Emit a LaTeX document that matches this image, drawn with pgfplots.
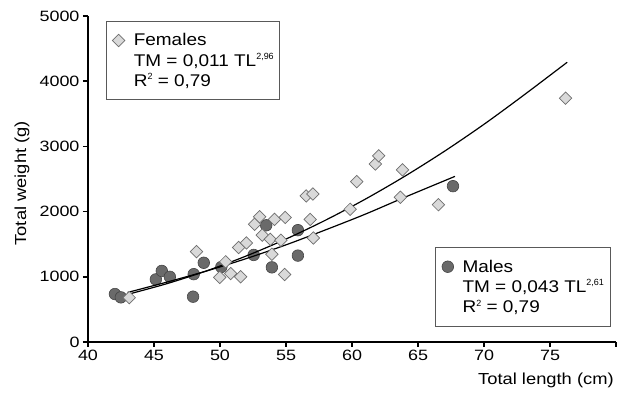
\documentclass[border=0pt]{standalone}
\usepackage{fontspec}
\setmainfont{Liberation Sans}
\usepackage{graphicx}
\usepackage{pgfplots}
\usepackage{pgfplotstable}
\pgfplotsset{compat=1.18}
\definecolor{fem}{HTML}{D9D9D9}
\definecolor{femedge}{HTML}{6E6E6E}
\definecolor{mal}{HTML}{6A6A6A}
\definecolor{maledge}{HTML}{454545}
\newcommand\W[1]{\scalebox{1.15}[1]{#1}}
\newcommand\Lg[1]{\scalebox{1.12}[1]{#1}}
\newcommand\T[1]{\scalebox{1.2}[1]{#1}}
\newcommand\sups[1]{\raisebox{6.5bp}{\fontsize{9}{9}\selectfont #1}}

\pgfplotstableread{
x y
42.04 735
42.49 685
45.14 960
45.59 1090
46.20 1000
48.01 1040
47.96 695
48.77 1215
50.10 1150
52.55 1335
53.50 1790
53.93 1145
55.90 1715
55.90 1325
67.65 2390
}\males

\pgfplotstableread{
x y
43.12 680
48.22 1385
49.98 990
50.43 1230
50.81 1050
51.56 1000
51.41 1450
52.00 1520
52.62 1805
53.00 1920
53.20 1640
53.81 1575
53.93 1345
54.13 1880
54.61 1560
54.94 1910
54.89 1035
56.53 2240
57.03 2270
56.83 1880
57.08 1595
59.86 2035
60.36 2460
61.77 2730
62.02 2855
63.66 2220
63.83 2640
66.55 2105
76.18 3740
}\females

\pgfplotstableread{
x y
43 730
46 896
49 1092
52 1320
55 1579
58 1869
61 2190
64 2542
67 2925
70 3339
73 3784
76.3 4290
}\femcurve

\pgfplotstableread{
x y
43 760
46 920
49 1090
52 1280
55 1490
58 1720
61 1960
64 2220
67.8 2540
}\malcurve

\begin{document}
\begin{tikzpicture}[font=\fontsize{16}{19}\selectfont]
\pgfplotsset{
 common/.style={scale only axis, width=528bp, height=326bp,
  xmin=40, xmax=80, ymin=0, ymax=5000, at={(0,0)}, anchor=south west, clip=false,
  legend cell align=left,
  legend style={draw=black!65, line width=0.8bp, fill=white,
    font=\fontsize{17}{20}\selectfont, row sep=2bp, column sep=7bp,
    inner xsep=4bp, inner ysep=10bp},
 }
}
\begin{axis}[common, name=ax,
 axis lines=left, axis line style={-, line width=1.8bp},
 tick align=outside, major tick length=5bp, tick style={line width=1.5bp, black},
 xtick={40,45,...,80}, xticklabels={\T{40},\T{45},\T{50},\T{55},\T{60},\T{65},\T{70},\T{75},},
 ytick={0,1000,...,5000}, yticklabel={\T{\pgfmathprintnumber{\tick}}},
 tick label style={font=\fontsize{15}{18}\selectfont},
 /pgf/number format/assume math mode=true, /pgf/number format/1000 sep={},
 xlabel={\W{Total length (cm)}}, ylabel={\W{Total weight (g)}},
 x label style={at={(axis description cs:0.996,0)}, anchor=north east, inner sep=0pt, yshift=-31bp},
 y label style={at={(axis description cs:-0.125,0.487)}, anchor=center},
 legend style={at={(0.657,0.29)}, anchor=north west},
]
\addplot[only marks, mark=*, mark size=5.8bp,
  mark options={fill=mal, draw=maledge, line width=0.6bp}] table {\males};
\addlegendentry{\Lg{Males}}
\addlegendimage{empty legend}\addlegendentry{\Lg{TM = 0,043 TL}\sups{2,61}}
\addlegendimage{empty legend}\addlegendentry{\Lg{R}\sups{2}\Lg{ = 0,79}}
\end{axis}

\begin{axis}[common, hide axis,
 legend style={at={(0.0335,0.984)}, anchor=north west},
]
\addplot[only marks, mark=square*, mark size=4.4bp,
  mark options={rotate=45, fill=fem, draw=femedge, line width=0.7bp}] table {\females};
\addlegendentry{\Lg{Females}}
\addlegendimage{empty legend}\addlegendentry{\Lg{TM = 0,011 TL}\sups{2,96}}
\addlegendimage{empty legend}\addlegendentry{\Lg{R}\sups{2}\Lg{ = 0,79}}
\addplot[forget plot, black, line width=1.2bp, smooth, no marks] table {\femcurve};
\addplot[forget plot, black, line width=1.2bp, smooth, no marks] table {\malcurve};
\end{axis}
\pgfresetboundingbox
\path[use as bounding box] ([shift={(-88bp,-52bp)}]ax.south west) rectangle ([shift={(9bp,16bp)}]ax.north east);
\end{tikzpicture}
\end{document}
